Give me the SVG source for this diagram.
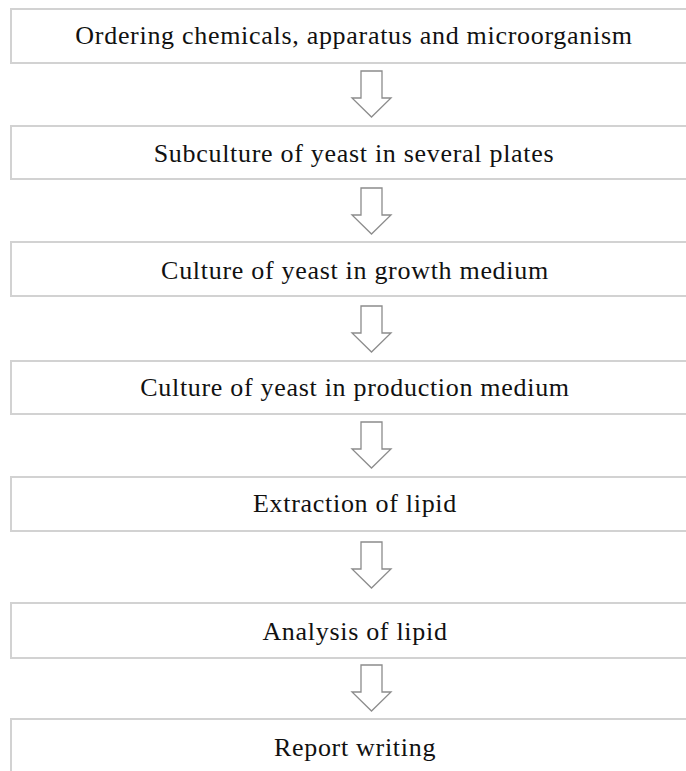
<svg xmlns="http://www.w3.org/2000/svg" xmlns:xlink="http://www.w3.org/1999/xlink" width="686" height="771" viewBox="0 0 686 771">
  <style>
    .box { fill: #ffffff; stroke: #d2d2d2; stroke-width: 2; }
    .lbl { font-family: "Liberation Serif", "Times New Roman", serif; font-size: 26px; letter-spacing: 0.7px; fill: #111111; text-anchor: middle; }
    .arrow { fill: #ffffff; stroke: #8c8c8c; stroke-width: 1.3; stroke-linejoin: miter; }
  </style>
  <defs>
    <path id="downArrow" class="arrow" d="M-10.5,0 H10.5 V27 H19.5 L0,46 L-19.5,27 H-10.5 Z"/>
  </defs>
  <rect width="686" height="771" fill="#ffffff"/>

  <g id="connectors">
    <use xlink:href="#downArrow" href="#downArrow" x="371.5" y="71"/>
    <use xlink:href="#downArrow" href="#downArrow" x="371.5" y="188"/>
    <use xlink:href="#downArrow" href="#downArrow" x="371.5" y="306"/>
    <use xlink:href="#downArrow" href="#downArrow" x="371.5" y="422"/>
    <use xlink:href="#downArrow" href="#downArrow" x="371.5" y="542"/>
    <use xlink:href="#downArrow" href="#downArrow" x="371.5" y="665"/>
  </g>

  <g id="step1">
    <rect class="box" x="11" y="9" width="688" height="54"/>
    <text class="lbl" x="354" y="44">Ordering chemicals, apparatus and microorganism</text>
  </g>
  <g id="step2">
    <rect class="box" x="11" y="126" width="688" height="53"/>
    <text class="lbl" x="354" y="162">Subculture of yeast in several plates</text>
  </g>
  <g id="step3">
    <rect class="box" x="11" y="242" width="688" height="54"/>
    <text class="lbl" x="355" y="279">Culture of yeast in growth medium</text>
  </g>
  <g id="step4">
    <rect class="box" x="11" y="361" width="688" height="53"/>
    <text class="lbl" x="355" y="396">Culture of yeast in production medium</text>
  </g>
  <g id="step5">
    <rect class="box" x="11" y="477" width="688" height="54"/>
    <text class="lbl" x="355" y="512">Extraction of lipid</text>
  </g>
  <g id="step6">
    <rect class="box" x="11" y="603" width="688" height="55"/>
    <text class="lbl" x="355" y="640">Analysis of lipid</text>
  </g>
  <g id="step7">
    <rect class="box" x="11" y="719" width="688" height="60"/>
    <text class="lbl" x="355" y="756">Report writing</text>
  </g>
</svg>
